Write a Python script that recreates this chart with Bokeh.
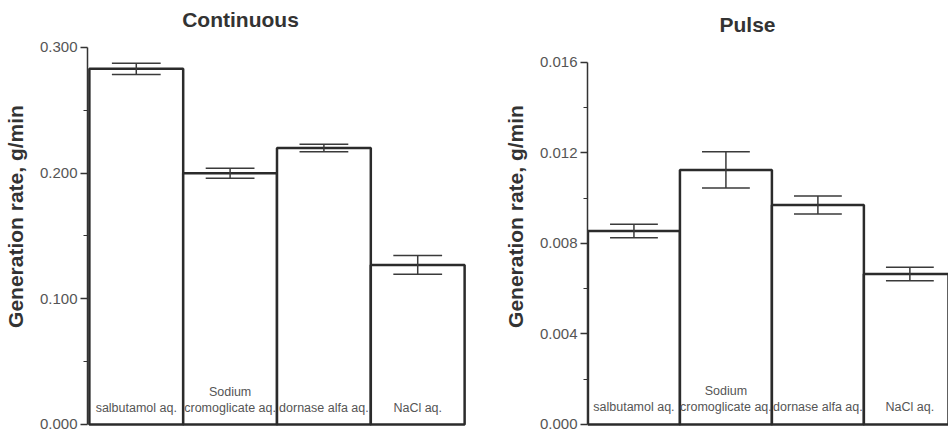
from bokeh.plotting import figure
from bokeh.layouts import row
from bokeh.models import Range1d, FixedTicker, PrintfTickFormatter, ColumnDataSource, Label
from bokeh.embed import file_html
from bokeh.resources import INLINE
from bokeh.core.properties import value

# ---- data ----
labels = ["salbutamol aq.", "Sodium\ncromoglicate aq.", "dornase alfa aq.", "NaCl aq."]
cont_rate = [0.283, 0.200, 0.220, 0.127]
cont_err = [0.0045, 0.004, 0.003, 0.0075]
pulse_rate = [0.00855, 0.01125, 0.0097, 0.00665]
pulse_err = [0.0003, 0.0008, 0.0004, 0.0003]
cont_ticks = [0.0, 0.1, 0.2, 0.3]
cont_minor = [0.05, 0.15, 0.25]
pulse_ticks = [0.0, 0.004, 0.008, 0.012, 0.016]
pulse_minor = [0.002, 0.006, 0.010, 0.014]

FONT = "Liberation Sans"
DARK = "#2b2b2b"
GREY = "#555555"
H = 433


def panel(title, rates, errs, ticks, minor, width, yr, bounds, xr, mb_left, mb_right,
          label_off, title_x, title_y):
    p = figure(width=width, height=H, output_backend="svg", toolbar_location=None,
               title=None, x_axis_location=None, x_range=Range1d(*xr), y_range=Range1d(*yr),
               min_border_left=mb_left, min_border_right=mb_right,
               min_border_top=0, min_border_bottom=1,
               background_fill_color="white", border_fill_color="white")
    p.outline_line_color = None
    p.xgrid.visible = False
    p.ygrid.visible = False

    xs = list(range(len(rates)))
    src = ColumnDataSource(dict(
        x=xs, top=rates, label=labels,
        lo=[r - e for r, e in zip(rates, errs)],
        hi=[r + e for r, e in zip(rates, errs)],
        cl=[x - 0.26 for x in xs], cr=[x + 0.26 for x in xs],
    ))
    p.vbar(x="x", top="top", bottom=0, width=1.0, source=src,
           fill_color="white", line_color=DARK, line_width=2.5)
    p.segment(x0="x", x1="x", y0="lo", y1="hi", source=src, line_color="#3a3a3a", line_width=1.5)
    p.segment(x0="cl", x1="cr", y0="lo", y1="lo", source=src, line_color="#3a3a3a", line_width=1.5)
    p.segment(x0="cl", x1="cr", y0="hi", y1="hi", source=src, line_color="#3a3a3a", line_width=1.5)
    p.text(x="x", y=0, text="label", source=src, text_align="center",
           text_baseline="bottom", y_offset=label_off, text_font=value(FONT),
           text_font_size="12.5px", text_color=GREY, text_line_height=1.2)

    ax = p.yaxis[0]
    ax.bounds = bounds
    ax.ticker = FixedTicker(ticks=ticks, minor_ticks=minor)
    ax.formatter = PrintfTickFormatter(format="%.3f")
    ax.axis_label = "Generation rate, g/min"
    ax.axis_label_text_font = FONT
    ax.axis_label_text_font_style = "bold"
    ax.axis_label_text_font_size = "21px"
    ax.axis_label_text_color = "#333333"
    ax.axis_label_standoff = 10
    ax.major_label_text_font = FONT
    ax.major_label_text_font_size = "15px"
    ax.major_label_text_color = GREY
    ax.major_label_standoff = 3
    ax.axis_line_color = "#333333"
    ax.axis_line_width = 1.5
    ax.major_tick_line_color = "#333333"
    ax.major_tick_line_width = 1.5
    ax.major_tick_out = 7
    ax.major_tick_in = 0
    ax.minor_tick_line_color = "#333333"
    ax.minor_tick_out = 4
    ax.minor_tick_in = 0

    # title as a label (screen x measured from the frame's left edge)
    p.add_layout(Label(x=title_x, y=H - title_y, x_units="screen", y_units="screen",
                       text=title, text_font=FONT, text_font_style="bold",
                       text_font_size="21px", text_color="#333333",
                       text_align="center", text_baseline="middle"))
    return p


# frames span the full height; axis lines limited by bounds
p1 = panel("Continuous", cont_rate, cont_err, cont_ticks, cont_minor, 480,
           (-0.00637, 0.3374), (0.0, 0.300), (-0.52, 3.52), 86, 14, -9, 153, 20)
p2 = panel("Pulse", pulse_rate, pulse_err, pulse_ticks, pulse_minor, 468,
           (-0.000354, 0.01874), (0.0, 0.016), (-0.505, 3.42), 107, 0, -10, 160, 25)

layout = row(p1, p2)
open("out.html", "w").write(file_html(layout, INLINE))
